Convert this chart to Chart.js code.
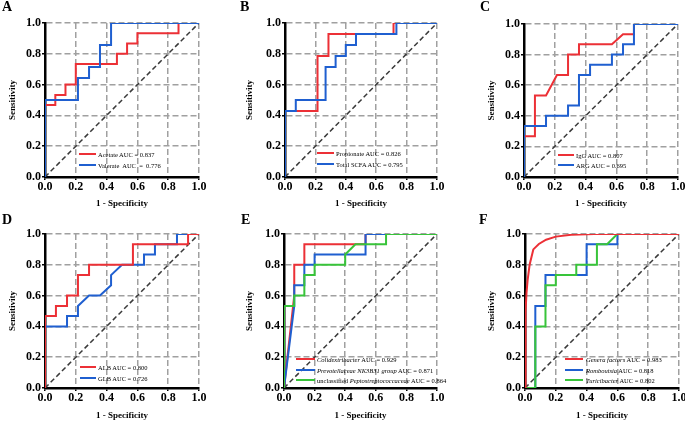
<!DOCTYPE html>
<html>
<head>
<meta charset="utf-8">
<script src="https://cdn.jsdelivr.net/npm/chart.js@4.4.1/dist/chart.umd.min.js"></script>
<style>
  html, body { margin:0; padding:0; background:#fff; width:685px; height:421px; overflow:hidden; position:relative; }
  .panel { position:absolute; }
  .tag { position:absolute; font:bold 14px 'Liberation Serif', serif; color:#000; line-height:1; }
  .legtxt { position:absolute; font:6.5px 'Liberation Serif', serif; color:#000; white-space:nowrap; line-height:7px; }
  .legline { position:absolute; height:2px; }
</style>
</head>
<body>
<script>
const RED = '#ec3036', BLUE = '#1f5fd0', GREEN = '#38c43a';
const xTitle = '1 - Specificity';
const yTitle = 'Sensitivity';
const diagX = [0, 1];
const diagY = [0, 1];

// A
const acetateX = [0,0,0.067,0.067,0.133,0.133,0.2,0.2,0.467,0.467,0.533,0.533,0.6,0.6,0.867,0.867,1];
const acetateY = [0,0.467,0.467,0.533,0.533,0.6,0.6,0.733,0.733,0.8,0.8,0.867,0.867,0.933,0.933,1,1];
const valerateX = [0,0,0.214,0.214,0.286,0.286,0.357,0.357,0.429,0.429,1];
const valerateY = [0,0.5,0.5,0.643,0.643,0.714,0.714,0.857,0.857,1,1];
// B
const propionateX = [0,0,0.214,0.214,0.286,0.286,0.714,0.714,1];
const propionateY = [0,0.429,0.429,0.786,0.786,0.929,0.929,1,1];
const scfaX = [0,0,0.071,0.071,0.267,0.267,0.333,0.333,0.4,0.4,0.467,0.467,0.733,0.733,1];
const scfaY = [0,0.429,0.429,0.5,0.5,0.714,0.714,0.786,0.786,0.857,0.857,0.929,0.929,1,1];
// C
const iggX = [0,0,0.071,0.071,0.143,0.214,0.286,0.286,0.357,0.357,0.571,0.643,0.714,0.714,1];
const iggY = [0,0.267,0.267,0.533,0.533,0.667,0.667,0.8,0.8,0.867,0.867,0.933,0.933,1,1];
const argX = [0,0,0.143,0.143,0.286,0.286,0.357,0.357,0.429,0.429,0.571,0.571,0.643,0.643,0.714,0.714,1];
const argY = [0,0.333,0.333,0.4,0.4,0.467,0.467,0.667,0.667,0.733,0.733,0.8,0.8,0.867,0.867,1,1];
// D
const albX = [0,0,0.071,0.071,0.143,0.143,0.214,0.214,0.286,0.286,0.571,0.571,0.929,0.929,1];
const albY = [0,0.467,0.467,0.533,0.533,0.6,0.6,0.733,0.733,0.8,0.8,0.933,0.933,1,1];
const glbX = [0,0,0.143,0.143,0.214,0.214,0.286,0.357,0.429,0.429,0.5,0.643,0.643,0.714,0.714,0.857,0.857,1];
const glbY = [0,0.4,0.4,0.467,0.467,0.533,0.6,0.6,0.667,0.733,0.8,0.8,0.867,0.867,0.933,0.933,1,1];
// E
const colidexX = [0,0.067,0.067,0.133,0.133,0.533,0.533,1];
const colidexY = [0,0.6,0.8,0.8,0.933,0.933,1,1];
const prevoX = [0,0.067,0.067,0.133,0.133,0.2,0.2,0.533,0.533,1];
const prevoY = [0,0.533,0.667,0.667,0.8,0.8,0.867,0.867,1,1];
const peptoX = [0,0,0.067,0.067,0.133,0.133,0.2,0.2,0.4,0.4,0.467,0.667,0.667,1];
const peptoY = [0,0.533,0.533,0.6,0.6,0.733,0.733,0.8,0.8,0.867,0.933,0.933,1,1];
// F
const generaX = [0,0.002,0.005,0.01,0.017,0.03,0.054,0.09,0.137,0.2,0.3,0.45,1];
const generaY = [0,0.3,0.5,0.62,0.7,0.8,0.9,0.935,0.963,0.983,0.995,1,1];
const rombX = [0,0.067,0.067,0.133,0.133,0.4,0.4,0.6,0.6,1];
const rombY = [0,0,0.533,0.533,0.733,0.733,0.933,0.933,1,1];
const turiX = [0,0.067,0.067,0.133,0.133,0.2,0.2,0.333,0.333,0.467,0.467,0.533,0.6,1];
const turiY = [0,0,0.4,0.4,0.667,0.667,0.733,0.733,0.8,0.8,0.933,0.933,1,1];

// order: lower = drawn on top
const panels = [
  { tag:'A', tagPos:[2,0], box:[0,0,240,209], pad:{left:7,top:23,right:41,bottom:0}, yw:38, xh:32,
    series:[[acetateX,acetateY,RED,2],[valerateX,valerateY,BLUE,1]],
    legend:{x1:79,x2:96,tx:98,ys:[154,165],labels:['Acetate AUC = 0.837','Valerate&nbsp; AUC&nbsp; =&nbsp; 0.776']} },
  { tag:'B', tagPos:[240,0], box:[228,0,240,209], pad:{left:16,top:23,right:31,bottom:0}, yw:41, xh:32,
    series:[[propionateX,propionateY,RED,2],[scfaX,scfaY,BLUE,1]],
    legend:{x1:317,x2:334,tx:336,ys:[153,164],labels:['Propionate AUC = 0.826','Total SCFA AUC = 0.795']} },
  { tag:'C', tagPos:[480,0], box:[456,0,240,209], pad:{left:30,top:24,right:18,bottom:0}, yw:38, xh:32,
    series:[[iggX,iggY,RED,2],[argX,argY,BLUE,1]],
    legend:{x1:558,x2:574,tx:576,ys:[155,165],labels:['IgG AUC = 0.807','ARG AUC = 0.695']} },
  { tag:'D', tagPos:[2,213], box:[0,207,240,214], pad:{left:7,top:27,right:41,bottom:0}, yw:38, xh:33,
    series:[[albX,albY,RED,1],[glbX,glbY,BLUE,2]],
    legend:{x1:80,x2:96,tx:98,ys:[367,378],labels:['ALB AUC = 0.800','GLB AUC = 0.726']} },
  { tag:'E', tagPos:[241,213], box:[228,207,240,214], pad:{left:16,top:27,right:31,bottom:0}, yw:40, xh:33,
    series:[[colidexX,colidexY,RED,3],[prevoX,prevoY,BLUE,2],[peptoX,peptoY,GREEN,1]],
    legend:{x1:296,x2:315,tx:317,ys:[359,370,380],labels:['<i>Colidextribacter</i> AUC = 0.929','<i>Prevotellaceae NK3B31 group</i> AUC = 0.871','unclassified <i>Peptostreptococcaceae</i> AUC = 0.864']} },
  { tag:'F', tagPos:[479,213], box:[456,207,240,214], pad:{left:30,top:27,right:17,bottom:0}, yw:39, xh:33,
    series:[[generaX,generaY,RED,1],[rombX,rombY,BLUE,3],[turiX,turiY,GREEN,2]],
    legend:{x1:565,x2:583,tx:586,ys:[359,370,380],labels:['<i>Genera factors</i> AUC = 0.983','<i>Romboutsia</i> AUC = 0.818','<i>Turicibacter</i> AUC = 0.802']} }
];

function axis(title, size, tickPad) {
  return {
    type:'linear', min:0, max:1,
    ticks:{ stepSize:0.2, color:'#000', padding:tickPad, autoSkip:false, maxRotation:0,
      font:{ family:'Liberation Serif', weight:'bold', size:12 },
      callback:v => v.toFixed(1) },
    grid:{ color:c => (c.tick && c.tick.value === 0) ? 'rgba(0,0,0,0)' : '#a0a0a0',
      lineWidth:1.5, tickColor:'#000', tickLength:3, tickWidth:1.5, tickBorderDash:[] },
    border:{ display:true, color:'#000', width:2.5, dash:[6,3] },
    title:{ display:true, text:title, color:'#000', padding:0,
      font:{ family:'Liberation Serif', weight:'bold', size:9 } },
    afterFit:s => { if (s.isHorizontal()) s.height = size; else s.width = size; }
  };
}

const toPts = (xs, ys) => xs.map((x, i) => ({ x, y: ys[i] }));

panels.forEach(p => {
  const [l, t, w, h] = p.box;
  const wrap = document.createElement('div');
  wrap.className = 'panel';
  wrap.style.cssText = `left:${l}px;top:${t}px;width:${w}px;height:${h}px`;
  const cv = document.createElement('canvas');
  cv.width = w; cv.height = h;
  wrap.appendChild(cv);
  document.body.appendChild(wrap);

  const datasets = p.series.map(([xs, ys, col, ord]) => ({
    data: toPts(xs, ys), borderColor: col, borderWidth: 2, pointRadius: 0, tension: 0, fill: false, order: ord
  }));
  datasets.push({ data: toPts(diagX, diagY), borderColor: '#3a3a3a', borderWidth: 1.5, borderDash: [5,3], pointRadius: 0, order: 10 });

  new Chart(cv, {
    type: 'line',
    data: { datasets },
    options: {
      responsive: false, animation: false, events: [],
      layout: { padding: p.pad },
      plugins: { legend: { display: false }, tooltip: { enabled: false } },
      scales: { x: axis(xTitle, p.xh, 0), y: axis(yTitle, p.yw, 1) }
    }
  });

  const tg = document.createElement('div');
  tg.className = 'tag';
  tg.style.left = p.tagPos[0] + 'px'; tg.style.top = p.tagPos[1] + 'px';
  tg.textContent = p.tag;
  document.body.appendChild(tg);

  const lg = p.legend;
  lg.ys.forEach((y, i) => {
    const ln = document.createElement('div');
    ln.className = 'legline';
    ln.style.cssText = `left:${lg.x1}px;width:${lg.x2 - lg.x1}px;top:${y - 1}px;background:${p.series[i][2]}`;
    document.body.appendChild(ln);
    const tx = document.createElement('div');
    tx.className = 'legtxt';
    tx.style.left = lg.tx + 'px'; tx.style.top = (y - 3.5) + 'px';
    tx.innerHTML = lg.labels[i];
    document.body.appendChild(tx);
  });
});
</script>
</body>
</html>
